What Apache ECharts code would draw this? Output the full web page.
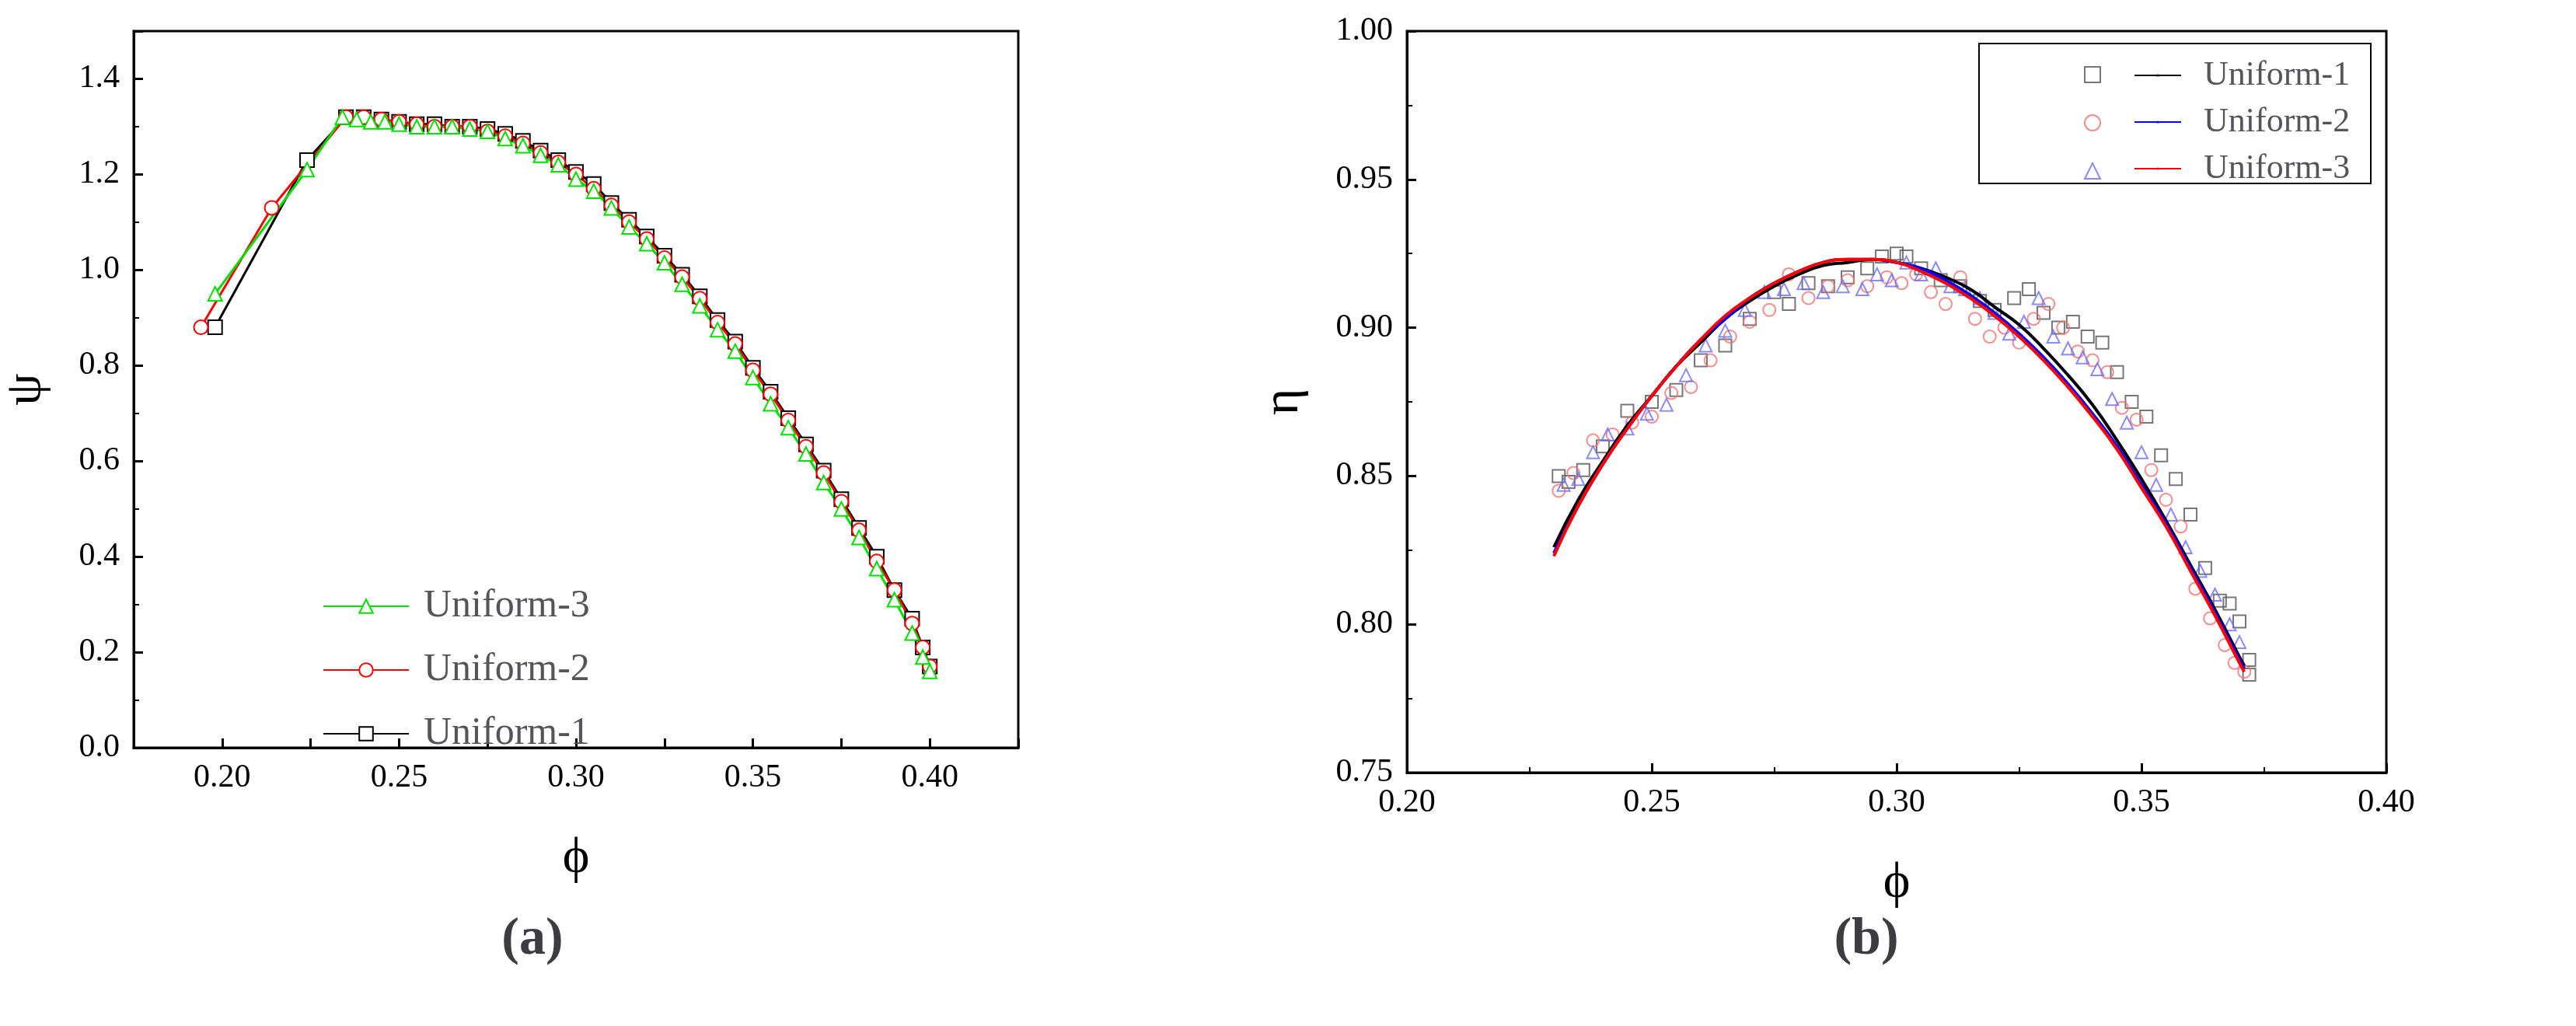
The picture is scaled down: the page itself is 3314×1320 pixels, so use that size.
<!DOCTYPE html>
<html>
<head>
<meta charset="utf-8">
<script src="https://cdn.jsdelivr.net/npm/echarts@6/dist/echarts.min.js"></script>
<style>html,body{margin:0;background:#fff}#c{width:3314px;height:1320px}</style>
</head>
<body>
<div id="c"></div>
<script>
// (a) psi vs phi
const phiA1 = [0.198,0.224,0.235,0.24,0.245,0.25,0.255,0.26,0.265,0.27,0.275,0.28,0.285,0.29,0.295,0.30,0.305,0.31,0.315,0.32,0.325,0.33,0.335,0.34,0.345,0.35,0.355,0.36,0.365,0.37,0.375,0.38,0.385,0.39,0.395,0.398,0.40]
const psiA1 = [0.88,1.23,1.32,1.32,1.315,1.31,1.305,1.305,1.30,1.30,1.295,1.285,1.27,1.25,1.23,1.205,1.18,1.14,1.105,1.07,1.03,0.99,0.945,0.895,0.85,0.795,0.745,0.69,0.635,0.58,0.52,0.46,0.40,0.33,0.27,0.21,0.17]
const phiA2 = [0.194,0.214,0.235,0.24,0.245,0.25,0.255,0.26,0.265,0.27,0.275,0.28,0.285,0.29,0.295,0.30,0.305,0.31,0.315,0.32,0.325,0.33,0.335,0.34,0.345,0.35,0.355,0.36,0.365,0.37,0.375,0.38,0.385,0.39,0.395,0.398,0.40]
const psiA2 = [0.88,1.13,1.32,1.32,1.315,1.31,1.305,1.30,1.30,1.30,1.29,1.28,1.265,1.245,1.225,1.20,1.17,1.135,1.10,1.065,1.025,0.985,0.94,0.89,0.845,0.79,0.74,0.685,0.63,0.575,0.515,0.455,0.39,0.33,0.26,0.21,0.17]
const phiA3 = [0.198,0.224,0.234,0.238,0.242,0.246,0.25,0.255,0.26,0.265,0.27,0.275,0.28,0.285,0.29,0.295,0.30,0.305,0.31,0.315,0.32,0.325,0.33,0.335,0.34,0.345,0.35,0.355,0.36,0.365,0.37,0.375,0.38,0.385,0.39,0.395,0.398,0.40]
const psiA3 = [0.95,1.21,1.32,1.315,1.31,1.31,1.305,1.30,1.30,1.30,1.295,1.29,1.275,1.26,1.24,1.22,1.19,1.165,1.13,1.09,1.055,1.015,0.97,0.925,0.875,0.83,0.775,0.72,0.67,0.615,0.555,0.50,0.44,0.375,0.31,0.24,0.19,0.16]

// (b) eta vs phi, scattered points
const phiB1 = [0.231,0.233,0.236,0.240,0.245,0.250,0.255,0.260,0.265,0.270,0.275,0.278,0.282,0.286,0.290,0.294,0.297,0.300,0.302,0.305,0.309,0.313,0.317,0.320,0.324,0.327,0.330,0.333,0.336,0.339,0.342,0.345,0.348,0.351,0.354,0.357,0.360,0.363,0.366,0.368,0.370,0.372,0.372]
const etaB1 = [0.850,0.848,0.852,0.860,0.872,0.875,0.879,0.889,0.894,0.903,0.912,0.908,0.915,0.914,0.917,0.920,0.924,0.925,0.924,0.920,0.916,0.914,0.909,0.906,0.910,0.913,0.905,0.900,0.902,0.897,0.895,0.885,0.875,0.870,0.857,0.849,0.837,0.819,0.808,0.807,0.801,0.788,0.783]
const phiB2 = [0.231,0.234,0.238,0.242,0.246,0.250,0.254,0.258,0.262,0.266,0.270,0.274,0.278,0.282,0.286,0.290,0.294,0.298,0.301,0.304,0.307,0.310,0.313,0.316,0.319,0.322,0.325,0.328,0.331,0.334,0.337,0.340,0.343,0.346,0.349,0.352,0.355,0.358,0.361,0.364,0.367,0.369,0.371]
const etaB2 = [0.845,0.851,0.862,0.864,0.868,0.870,0.878,0.880,0.889,0.897,0.902,0.906,0.918,0.910,0.914,0.916,0.914,0.917,0.915,0.918,0.912,0.908,0.917,0.903,0.897,0.900,0.895,0.903,0.908,0.900,0.892,0.889,0.885,0.873,0.869,0.852,0.842,0.833,0.812,0.802,0.793,0.787,0.784]
const phiB3 = [0.232,0.235,0.238,0.241,0.245,0.249,0.253,0.257,0.261,0.265,0.269,0.273,0.277,0.281,0.285,0.289,0.293,0.296,0.299,0.302,0.305,0.308,0.311,0.314,0.317,0.320,0.323,0.326,0.329,0.332,0.335,0.338,0.341,0.344,0.347,0.350,0.353,0.356,0.359,0.362,0.365,0.368,0.370]
const etaB3 = [0.847,0.849,0.858,0.864,0.866,0.871,0.874,0.884,0.894,0.899,0.906,0.912,0.913,0.915,0.912,0.914,0.913,0.918,0.916,0.922,0.918,0.920,0.914,0.913,0.910,0.905,0.898,0.902,0.910,0.897,0.893,0.890,0.886,0.876,0.868,0.858,0.847,0.837,0.826,0.818,0.810,0.800,0.794]
// fitted curves
const phiFit = [0.23,0.235,0.24,0.245,0.25,0.255,0.26,0.265,0.27,0.275,0.28,0.285,0.29,0.295,0.30,0.305,0.31,0.315,0.32,0.325,0.33,0.335,0.34,0.345,0.35,0.355,0.36,0.365,0.37,0.371]
const etaFit1 = [0.826,0.842,0.855,0.867,0.877,0.887,0.895,0.903,0.909,0.914,0.918,0.921,0.922,0.923,0.922,0.920,0.917,0.913,0.907,0.901,0.893,0.884,0.874,0.862,0.849,0.835,0.820,0.805,0.789,0.786]
const etaFit2 = [0.824,0.840,0.854,0.866,0.877,0.887,0.896,0.903,0.910,0.915,0.919,0.922,0.923,0.923,0.922,0.920,0.916,0.911,0.905,0.898,0.890,0.881,0.871,0.860,0.847,0.834,0.819,0.804,0.788,0.785]
const etaFit3 = [0.823,0.840,0.854,0.866,0.877,0.887,0.896,0.904,0.910,0.915,0.919,0.922,0.923,0.923,0.922,0.919,0.915,0.910,0.904,0.897,0.889,0.880,0.870,0.859,0.846,0.833,0.818,0.803,0.787,0.784]

const zip = (a, b) => a.map((v, i) => [v, b[i]])
const font = 'Liberation Serif'
const txt = { fontFamily: font, fontSize: 42, color: '#000' }

function axis(min, max, interval, gridIndex, name, gap, fmt, minor) {
  return {
    type: 'value', min, max, interval, gridIndex,
    name, nameLocation: 'middle', nameGap: gap,
    nameTextStyle: { fontFamily: font, fontSize: 66, color: '#000' },
    axisLine: { onZero: false, lineStyle: { color: '#000', width: 3 } },
    axisTick: { inside: true, length: 12, lineStyle: { color: '#000', width: 3 } },
    minorTick: { show: minor, splitNumber: 2, length: 7, lineStyle: { color: '#000', width: 2 } },
    splitLine: { show: false },
    axisLabel: Object.assign({ formatter: fmt, margin: 18 }, txt)
  }
}
const f2 = v => v.toFixed(2)
const fA = v => Math.round(v * 1000) % 50 === 0 ? v.toFixed(2) : ''
const fPsi = v => v > 1.45 ? '' : v.toFixed(1)

function pts(name, data, symbol, color, xi) {
  return { name, type: 'scatter', xAxisIndex: xi, yAxisIndex: xi, data, symbol, symbolSize: 16,
    itemStyle: { color: 'rgba(255,255,255,0)', borderColor: color, borderWidth: 2 } }
}
function lineMk(name, data, symbol, color) {
  return { name, type: 'line', data, symbol, symbolSize: 18, showAllSymbol: true,
    xAxisIndex: 0, yAxisIndex: 0,
    lineStyle: { color, width: 3 }, itemStyle: { color: '#fff', borderColor: color, borderWidth: 2 } }
}
function fit(name, data, color) {
  return { name, type: 'line', data, symbol: 'none', smooth: true, xAxisIndex: 1, yAxisIndex: 1,
    lineStyle: { color, width: 4 }, itemStyle: { color } }
}

const chart = echarts.init(document.getElementById('c'))
chart.setOption({
  backgroundColor: '#fff',
  animation: false,
  title: [
    { text: '(a)', left: 680, top: 1170, textAlign: 'center', textStyle: { fontFamily: font, fontSize: 68, fontWeight: 'bold' } },
    { text: '(b)', left: 2396, top: 1170, textAlign: 'center', textStyle: { fontFamily: font, fontSize: 68, fontWeight: 'bold' } }
  ],
  grid: [
    { left: 154, top: 40, width: 1156, height: 922, show: true, borderColor: '#000', borderWidth: 3 },
    { left: 1810, top: 40, width: 1260, height: 954, show: true, borderColor: '#000', borderWidth: 3 }
  ],
  xAxis: [axis(0.175, 0.425, 0.025, 0, 'ϕ', 110, fA, false), axis(0.20, 0.40, 0.05, 1, 'ϕ', 110, f2, true)],
  yAxis: [axis(0, 1.5, 0.2, 0, 'ψ', 105, fPsi, true), axis(0.75, 1.00, 0.05, 1, 'η', 125, f2, true)],
  legend: [
    { data: ['Uniform-3', 'Uniform-2', 'Uniform-1'], orient: 'vertical', left: 410, top: 750,
      itemWidth: 110, itemHeight: 22, itemGap: 32, textStyle: { fontFamily: font, fontSize: 50, padding: [0, 0, 0, 14] } },
    { data: ['s1', 's2', 's3'], orient: 'vertical', left: 2676, top: 80, itemGap: 40, itemWidth: 20, itemHeight: 20,
      formatter: () => '', textStyle: { fontSize: 40 } },
    { data: ['Uniform-1 ', 'Uniform-2 ', 'Uniform-3 '], orient: 'vertical', left: 2740, top: 70, itemGap: 16,
      itemWidth: 60, itemHeight: 4, textStyle: { fontFamily: font, fontSize: 44, padding: [0, 0, 0, 24] } }
  ],
  graphic: [{ type: 'rect', shape: { x: 2546, y: 56, width: 504, height: 180 },
    style: { fill: 'none', stroke: '#000', lineWidth: 2 } }],
  series: [
    lineMk('Uniform-1', zip(phiA1, psiA1), 'rect', '#000'),
    lineMk('Uniform-2', zip(phiA2, psiA2), 'circle', '#ff0000'),
    lineMk('Uniform-3', zip(phiA3, psiA3), 'triangle', '#00e000'),
    pts('s1', zip(phiB1, etaB1), 'rect', '#555', 1),
    pts('s2', zip(phiB2, etaB2), 'circle', '#f27070', 1),
    pts('s3', zip(phiB3, etaB3), 'triangle', '#6e6ef5', 1),
    fit('Uniform-1 ', zip(phiFit, etaFit1), '#000'),
    fit('Uniform-2 ', zip(phiFit, etaFit2), '#0000ff'),
    fit('Uniform-3 ', zip(phiFit, etaFit3), '#ff0000')
  ]
})
</script>
</body>
</html>
